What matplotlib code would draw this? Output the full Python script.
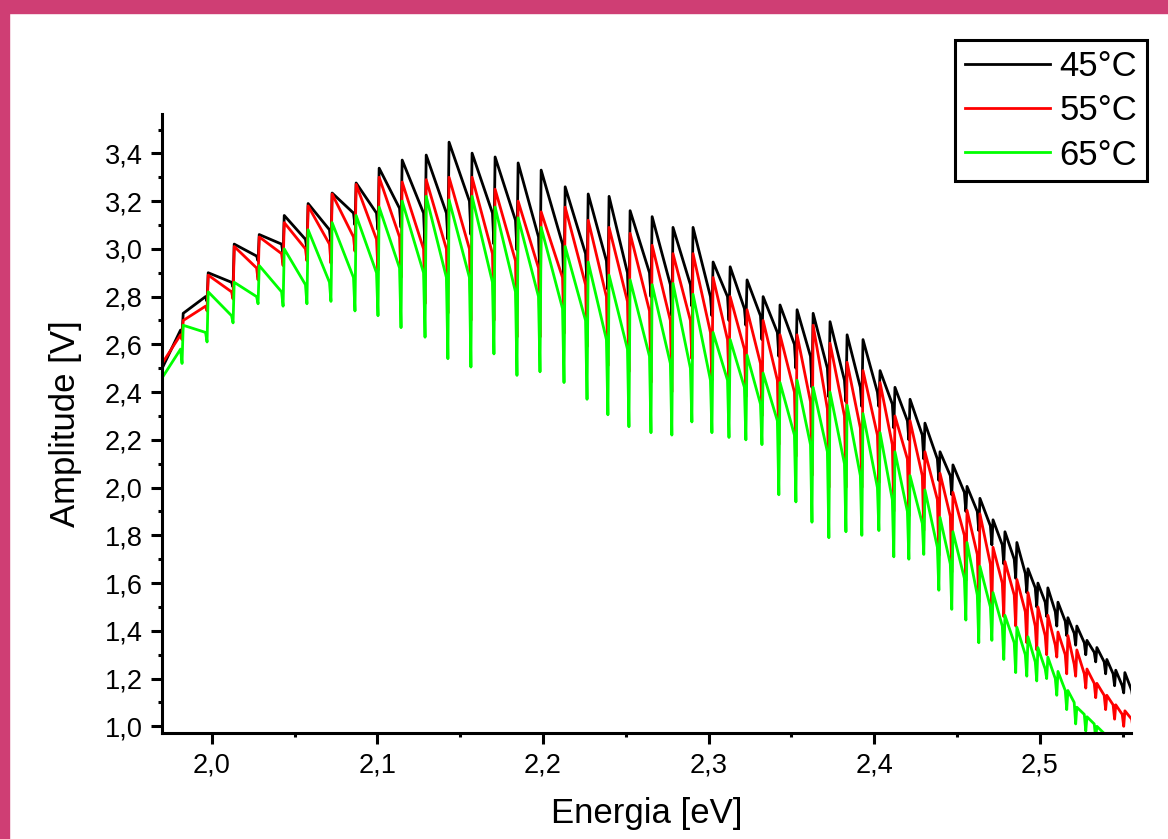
import matplotlib
matplotlib.use("Agg")
import matplotlib.pyplot as plt
from matplotlib.patches import Rectangle
from matplotlib.ticker import MultipleLocator

plt.rcParams["font.family"] = ["Liberation Sans", "DejaVu Sans"]

# energy where each interference fringe rises (eV)
fringe_ev = [
    1.9701, 1.9828, 1.9979, 2.0136, 2.0287, 2.0438, 2.0582, 2.0727, 2.0872, 2.1011,
    2.1150, 2.1295, 2.1433, 2.1572, 2.1711, 2.1850, 2.1989, 2.2134, 2.2273, 2.2399,
    2.2526, 2.2659, 2.2785, 2.2906, 2.3027, 2.3130, 2.3232, 2.3329, 2.3431, 2.3534,
    2.3631, 2.3733, 2.3836, 2.3932, 2.4035, 2.4125, 2.4216, 2.4306, 2.4397, 2.4475,
    2.4560, 2.4638, 2.4717, 2.4789, 2.4861, 2.4928, 2.4988, 2.5048, 2.5109, 2.5169,
    2.5223, 2.5284, 2.5344, 2.5404, 2.5458, 2.5513,
]
end_ev = 2.557

# 45 C: fringe top, level before the dip, bottom of the dip (V)
t45_peak = [
    2.50, 2.73, 2.90, 3.02, 3.06, 3.14, 3.19, 3.234, 3.276, 3.338,
    3.372, 3.393, 3.447, 3.401, 3.385, 3.36, 3.33, 3.26, 3.23, 3.22,
    3.16, 3.135, 3.09, 3.09, 2.945, 2.925, 2.87, 2.80, 2.765, 2.745,
    2.73, 2.695, 2.64, 2.62, 2.49, 2.42, 2.37, 2.27, 2.15, 2.095,
    2.005, 1.955, 1.865, 1.815, 1.77, 1.66, 1.60, 1.58, 1.52, 1.455,
    1.42, 1.36, 1.33, 1.28, 1.235, 1.225,
]
t45_shoulder = [
    2.66, 2.80, 2.86, 2.97, 3.02, 3.04, 3.08, 3.15, 3.15, 3.17,
    3.15, 3.15, 3.20, 3.15, 3.12, 3.05, 3.02, 2.98, 2.95, 2.90,
    2.90, 2.85, 2.85, 2.80, 2.80, 2.75, 2.72, 2.65, 2.60, 2.55,
    2.50, 2.45, 2.42, 2.40, 2.35, 2.28, 2.22, 2.12, 2.05, 1.98,
    1.90, 1.84, 1.76, 1.70, 1.64, 1.58, 1.52, 1.48, 1.44, 1.39,
    1.35, 1.31, 1.27, 1.22, 1.17, 1.15,
]
t45_dip = [
    2.64, 2.78, 2.84, 2.95, 2.98, 3.00, 3.02, 3.10, 3.08, 3.09,
    3.01, 3.04, 3.06, 3.02, 2.995, 2.88, 2.83, 2.86, 2.83, 2.73,
    2.80, 2.72, 2.76, 2.72, 2.70, 2.68, 2.62, 2.55, 2.50, 2.42,
    2.38, 2.36, 2.34, 2.34, 2.25, 2.20, 2.12, 2.03, 1.97, 1.90,
    1.82, 1.76, 1.68, 1.62, 1.56, 1.50, 1.46, 1.42, 1.38, 1.34,
    1.30, 1.27, 1.22, 1.17, 1.14, 1.11,
]

# 55 C
t55_peak = [
    2.52, 2.70, 2.89, 3.01, 3.05, 3.11, 3.18, 3.23, 3.27, 3.30,
    3.28, 3.29, 3.30, 3.30, 3.25, 3.20, 3.155, 3.175, 3.12, 3.09,
    3.065, 3.015, 2.98, 2.98, 2.88, 2.80, 2.745, 2.70, 2.64, 2.64,
    2.68, 2.605, 2.525, 2.49, 2.44, 2.30, 2.28, 2.15, 2.06, 1.98,
    1.905, 1.89, 1.75, 1.69, 1.615, 1.56, 1.50, 1.465, 1.395, 1.38,
    1.32, 1.24, 1.18, 1.13, 1.09, 1.065,
]
t55_shoulder = [
    2.64, 2.76, 2.82, 2.92, 2.98, 3.00, 3.02, 3.05, 3.04, 3.05,
    3.00, 3.00, 3.00, 2.98, 2.95, 2.92, 2.88, 2.85, 2.80, 2.78,
    2.74, 2.70, 2.70, 2.65, 2.62, 2.58, 2.52, 2.45, 2.40, 2.36,
    2.33, 2.30, 2.25, 2.22, 2.18, 2.12, 2.05, 1.95, 1.88, 1.80,
    1.72, 1.68, 1.60, 1.55, 1.48, 1.42, 1.38, 1.34, 1.30, 1.26,
    1.22, 1.18, 1.13, 1.09, 1.05, 1.03,
]
t55_dip = [
    2.62, 2.74, 2.79, 2.87, 2.93, 2.95, 2.94, 2.99, 2.91, 2.88,
    2.77, 2.73, 2.70, 2.70, 2.63, 2.63, 2.645, 2.59, 2.51, 2.485,
    2.44, 2.40, 2.54, 2.45, 2.45, 2.38, 2.30, 2.18, 2.13, 2.05,
    2.00, 2.00, 2.00, 2.02, 1.90, 1.88, 1.82, 1.715, 1.645, 1.61,
    1.52, 1.50, 1.46, 1.42, 1.35, 1.32, 1.30, 1.29, 1.22, 1.21,
    1.16, 1.12, 1.07, 1.03, 1.00, 0.99,
]

# 65 C
t65_peak = [
    2.46, 2.68, 2.82, 2.86, 2.93, 3.00, 3.08, 3.11, 3.14, 3.175,
    3.20, 3.22, 3.205, 3.22, 3.175, 3.13, 3.09, 3.01, 2.945, 2.89,
    2.87, 2.85, 2.855, 2.81, 2.65, 2.62, 2.555, 2.48, 2.44, 2.45,
    2.42, 2.40, 2.345, 2.31, 2.23, 2.15, 2.05, 1.99, 1.875, 1.815,
    1.77, 1.67, 1.56, 1.465, 1.415, 1.375, 1.33, 1.29, 1.23, 1.15,
    1.08, 1.04, 1.00, 0.95, 0.92, 0.89,
]
t65_shoulder = [
    2.58, 2.65, 2.72, 2.80, 2.82, 2.85, 2.86, 2.88, 2.90, 2.92,
    2.90, 2.88, 2.88, 2.86, 2.82, 2.80, 2.75, 2.70, 2.62, 2.58,
    2.55, 2.52, 2.50, 2.45, 2.45, 2.42, 2.35, 2.28, 2.22, 2.18,
    2.15, 2.10, 2.05, 2.00, 1.95, 1.90, 1.85, 1.75, 1.68, 1.62,
    1.55, 1.50, 1.42, 1.35, 1.30, 1.27, 1.24, 1.20, 1.15, 1.10,
    1.05, 1.01, 0.97, 0.93, 0.90, 0.87,
]
t65_dip = [
    2.52, 2.61, 2.69, 2.77, 2.76, 2.77, 2.78, 2.74, 2.72, 2.67,
    2.63, 2.54, 2.505, 2.56, 2.47, 2.485, 2.44, 2.37, 2.305, 2.255,
    2.23, 2.22, 2.275, 2.23, 2.21, 2.20, 2.18, 1.97, 1.94, 1.855,
    1.79, 1.815, 1.80, 1.82, 1.71, 1.70, 1.72, 1.57, 1.49, 1.445,
    1.35, 1.36, 1.28, 1.225, 1.21, 1.19, 1.20, 1.13, 1.07, 1.01,
    0.98, 0.95, 0.92, 0.89, 0.86, 0.84,
]

labels = ["45°C", "55°C", "65°C"]
colors = ["#000000", "#ff0000", "#00ff00"]

x_ticks = [2.0, 2.1, 2.2, 2.3, 2.4, 2.5]
x_tick_labels = ["2,0", "2,1", "2,2", "2,3", "2,4", "2,5"]
y_ticks = [1.0, 1.2, 1.4, 1.6, 1.8, 2.0, 2.2, 2.4, 2.6, 2.8, 3.0, 3.2, 3.4]
y_tick_labels = ["1,0", "1,2", "1,4", "1,6", "1,8", "2,0", "2,2",
                 "2,4", "2,6", "2,8", "3,0", "3,2", "3,4"]


def trace(peaks, shoulders, dips):
    """Sawtooth polyline: rise to the peak, sag to the shoulder, drop into the dip."""
    edges = fringe_ev + [end_ev]
    xs, ys = [], []
    for i, (p, s, d) in enumerate(zip(peaks, shoulders, dips)):
        nxt = edges[i + 1]
        xs += [edges[i], nxt - 0.0016, nxt - 0.0007]
        ys += [p, s, d]
    return xs, ys


W, H = 1168, 839
fig = plt.figure(figsize=(W / 100, H / 100), dpi=100)
fig.patch.set_facecolor("white")

pink = "#cf3e74"
fig.patches.append(Rectangle((0, 1 - 13 / H), 1, 13 / H, transform=fig.transFigure,
                             color=pink, zorder=0))
fig.patches.append(Rectangle((0, 0), 9 / W, 1, transform=fig.transFigure,
                             color=pink, zorder=0))

ax = fig.add_axes([162 / W, 1 - 733 / H, (1131 - 162) / W, (733 - 114) / H])

series = [
    (t45_peak, t45_shoulder, t45_dip),
    (t55_peak, t55_shoulder, t55_dip),
    (t65_peak, t65_shoulder, t65_dip),
]
for (pk, sh, dp), lab, col in zip(series, labels, colors):
    xs, ys = trace(pk, sh, dp)
    ax.plot(xs, ys, color=col, lw=2.0, label=lab)

ax.set_xlim(1.970, 2.555)
ax.set_ylim(0.972, 3.565)

ax.spines["top"].set_visible(False)
ax.spines["right"].set_visible(False)
for side in ("left", "bottom"):
    ax.spines[side].set_linewidth(2.2)

ax.set_xticks(x_ticks, x_tick_labels)
ax.set_yticks(y_ticks, y_tick_labels)
ax.xaxis.set_minor_locator(MultipleLocator(0.05))
ax.yaxis.set_minor_locator(MultipleLocator(0.1))
ax.tick_params(which="major", direction="out", length=8, width=2.2,
               labelsize=19.5, pad=6, colors="black")
ax.tick_params(which="minor", direction="out", length=3, width=2.2)

ax.set_xlabel("Energia [eV]", fontsize=25)
ax.xaxis.set_label_coords(0.5, -0.103)
ax.set_ylabel("Amplitude [V]", fontsize=25)
ax.yaxis.set_label_coords(-0.083, 0.5)

leg = ax.legend(loc="upper right", bbox_to_anchor=(1147 / W, 1 - 40 / H),
                bbox_transform=fig.transFigure, fontsize=25, frameon=True,
                fancybox=False, edgecolor="black", handlelength=2.45,
                handletextpad=0.28, labelspacing=0.33, borderpad=0.28,
                borderaxespad=0)
leg.get_frame().set_linewidth(2.2)
leg.get_frame().set_alpha(1)

fig.savefig("out.png", dpi=100)
